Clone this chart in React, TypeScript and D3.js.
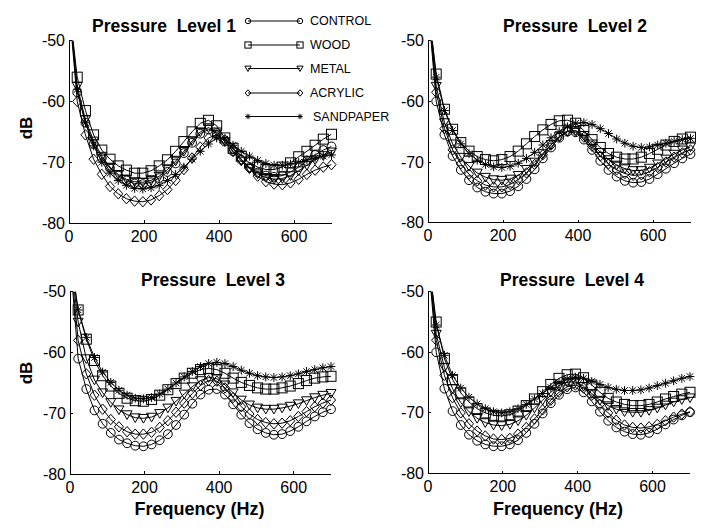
import React from 'react';
import * as d3 from 'd3';

const FREQ = [0, 21.9, 43.8, 65.6, 87.5, 109.4, 131.3, 153.1, 175, 196.9, 218.8, 240.6, 262.5, 284.4, 306.3, 328.1, 350, 371.9, 393.8, 415.6, 437.5, 459.4, 481.3, 503.1, 525, 546.9, 568.8, 590.6, 612.5, 634.4, 656.3, 678.1, 700];

const P1_CONTROL = [-44, -58.5, -63.5, -67, -69.3, -71, -72.2, -73, -73.5, -73.6, -73.3, -72.6, -71.6, -70.2, -68.5, -66.8, -65.3, -64.6, -65.2, -66.6, -68.2, -69.6, -70.8, -71.7, -72.2, -72.4, -72.2, -71.6, -70.8, -69.8, -68.8, -68, -67.4];
const P1_WOOD = [-44, -56, -61.5, -65.5, -68, -69.5, -70.6, -71.3, -71.8, -71.8, -71.4, -70.6, -69.6, -68.2, -66.6, -65, -63.6, -63.1, -64, -66, -67.7, -69, -70.1, -70.8, -71.2, -71.2, -70.8, -70.1, -69.1, -68.2, -67.2, -66.2, -65.4];
const P1_METAL = [-44, -57.5, -63, -66.5, -69, -70.8, -72, -72.8, -73.2, -73.3, -73, -72.3, -71.2, -69.8, -68.2, -66.5, -65, -64.3, -65, -66.6, -68.3, -69.8, -71, -71.9, -72.5, -72.8, -72.7, -72.2, -71.4, -70.5, -69.6, -68.9, -68.3];
const P1_ACRYLIC = [-44, -60, -65.5, -69.5, -72, -74, -75.2, -76, -76.4, -76.5, -76.2, -75.5, -74.5, -73, -71.2, -69.3, -67.5, -66, -65.5, -66.3, -67.8, -69.5, -71, -72.3, -73.2, -73.6, -73.7, -73.4, -72.8, -72, -71.3, -70.8, -70.4];
const P1_SANDPAPER = [-44, -58, -63.5, -67.3, -70, -71.8, -73, -73.8, -74.3, -74.4, -74.2, -73.8, -73, -72, -70.8, -69.5, -68.2, -67, -66, -66.2, -67.2, -68.2, -69, -69.7, -70.2, -70.5, -70.5, -70.3, -70, -69.6, -69.3, -69, -68.8];

const P2_CONTROL = [-44, -60, -65.5, -69, -71.3, -73, -74.2, -74.9, -75.2, -75.2, -74.8, -74, -72.8, -71.2, -69.4, -67.6, -66, -65, -65.1, -66.3, -68, -69.8, -71.3, -72.4, -73.1, -73.4, -73.3, -72.8, -72, -71.1, -70.2, -69.4, -68.7];
const P2_WOOD = [-44, -55.5, -61.3, -64.6, -66.8, -68.2, -69.1, -69.6, -69.8, -69.6, -69.1, -68.2, -67, -65.8, -64.7, -63.8, -63.2, -63.1, -63.6, -64.8, -66.3, -67.6, -68.6, -69.2, -69.5, -69.5, -69.2, -68.6, -67.9, -67.2, -66.6, -66.2, -65.9];
const P2_METAL = [-44, -57.5, -63.5, -67, -69.2, -70.7, -71.8, -72.5, -72.9, -73, -72.8, -72.2, -71.2, -70, -68.6, -67.1, -65.8, -64.9, -64.8, -65.6, -67, -68.4, -69.6, -70.5, -71.1, -71.4, -71.4, -71, -70.3, -69.5, -68.7, -68, -67.5];
const P2_ACRYLIC = [-44, -58.5, -64.5, -68, -70.3, -72, -73.1, -73.8, -74.1, -74.1, -73.7, -72.9, -71.8, -70.4, -68.8, -67.2, -65.8, -64.9, -64.9, -65.9, -67.4, -69, -70.3, -71.3, -71.9, -72.2, -72.1, -71.6, -70.9, -70, -69.2, -68.5, -68];
const P2_SANDPAPER = [-44, -56, -61.5, -64.8, -67, -68.6, -69.7, -70.4, -70.8, -70.9, -70.7, -70.2, -69.4, -68.4, -67.2, -66, -65, -64.2, -63.6, -63.5, -63.8, -64.5, -65.3, -66.2, -66.9, -67.4, -67.6, -67.5, -67.2, -66.9, -66.6, -66.3, -66.1];

const P3_CONTROL = [-44, -61, -66, -69.5, -71.7, -73.2, -74.3, -74.9, -75.3, -75.4, -75.1, -74.4, -73.4, -71.9, -70.2, -68.4, -66.9, -66.1, -66, -66.9, -68.5, -70.2, -71.6, -72.6, -73.2, -73.5, -73.4, -72.9, -72.2, -71.3, -70.5, -69.8, -69.3];
const P3_WOOD = [-44, -53, -57.8, -61.3, -63.8, -65.5, -66.7, -67.5, -67.9, -68, -67.7, -67, -66.1, -65.1, -64.2, -63.4, -62.8, -62.6, -62.8, -63.4, -64.2, -64.9, -65.4, -65.8, -66, -66, -65.8, -65.5, -65.1, -64.6, -64.2, -64, -63.9];
const P3_METAL = [-44, -55, -61, -64.5, -66.6, -68.2, -69.4, -70.2, -70.7, -70.8, -70.6, -70, -69.1, -68, -66.8, -65.6, -64.6, -64.1, -64.3, -65.3, -66.6, -67.8, -68.6, -69.1, -69.3, -69.3, -69.1, -68.8, -68.4, -67.9, -67.4, -67, -66.7];
const P3_ACRYLIC = [-44, -58, -63.5, -67, -69.3, -71, -72.2, -73, -73.4, -73.4, -73.1, -72.3, -71.2, -69.8, -68.3, -66.7, -65.4, -64.6, -64.7, -65.8, -67.4, -68.9, -70.1, -71, -71.5, -71.7, -71.6, -71.2, -70.5, -69.7, -68.9, -68.3, -67.8];
const P3_SANDPAPER = [-44, -53, -57.5, -60.8, -63.2, -64.9, -66.2, -67, -67.5, -67.6, -67.4, -66.8, -66, -65, -64, -63.1, -62.3, -61.8, -61.6, -61.8, -62.3, -62.9, -63.4, -63.8, -64, -64.1, -64, -63.8, -63.5, -63.1, -62.8, -62.5, -62.3];

const P4_CONTROL = [-44, -60, -66, -69.7, -72, -73.6, -74.6, -75.2, -75.5, -75.5, -75.2, -74.5, -73.3, -71.8, -70.1, -68.4, -67, -66.1, -65.8, -66.6, -68.1, -69.8, -71.3, -72.4, -73.1, -73.5, -73.6, -73.3, -72.7, -71.9, -71.1, -70.4, -69.9];
const P4_WOOD = [-44, -55, -61, -64.5, -66.7, -68.2, -69.3, -70, -70.4, -70.5, -70.3, -69.7, -68.8, -67.7, -66.5, -65.3, -64.3, -63.7, -63.6, -64.2, -65.4, -66.6, -67.6, -68.2, -68.6, -68.8, -68.8, -68.6, -68.2, -67.7, -67.3, -66.9, -66.6];
const P4_METAL = [-44, -57, -62.5, -66, -68.3, -69.8, -70.9, -71.6, -72, -72.1, -71.9, -71.3, -70.4, -69.2, -67.9, -66.6, -65.5, -64.9, -64.9, -65.6, -66.8, -67.9, -68.8, -69.4, -69.8, -69.9, -69.9, -69.6, -69.2, -68.7, -68.2, -67.8, -67.5];
const P4_ACRYLIC = [-44, -58, -63.8, -67.5, -70, -71.8, -73, -73.8, -74.3, -74.4, -74.2, -73.5, -72.4, -71, -69.5, -67.9, -66.6, -65.7, -65.4, -65.9, -67.1, -68.6, -70, -71.2, -72, -72.4, -72.5, -72.3, -71.9, -71.3, -70.7, -70.2, -69.8];
const P4_SANDPAPER = [-44, -55.5, -60.5, -63.8, -65.9, -67.4, -68.5, -69.3, -69.8, -70, -69.8, -69.3, -68.6, -67.7, -66.8, -65.8, -65, -64.4, -64.1, -64.3, -64.8, -65.3, -65.8, -66.1, -66.3, -66.3, -66.2, -65.9, -65.5, -65.1, -64.7, -64.3, -64];

const SERIES_NAMES = ['CONTROL', 'WOOD', 'METAL', 'ACRYLIC', 'SANDPAPER'];
const MARKERS = ['circle', 'square', 'triangle', 'diamond', 'asterisk'];
const PANEL_TITLES = ['Pressure  Level 1', 'Pressure  Level 2', 'Pressure  Level 3', 'Pressure  Level 4'];
const X_TICKS = [0, 200, 400, 600];
const Y_TICKS = [-50, -60, -70, -80];
const X_LABEL = 'Frequency (Hz)';
const Y_LABEL = 'dB';

const PANEL_DATA = [
  [P1_CONTROL, P1_WOOD, P1_METAL, P1_ACRYLIC, P1_SANDPAPER],
  [P2_CONTROL, P2_WOOD, P2_METAL, P2_ACRYLIC, P2_SANDPAPER],
  [P3_CONTROL, P3_WOOD, P3_METAL, P3_ACRYLIC, P3_SANDPAPER],
  [P4_CONTROL, P4_WOOD, P4_METAL, P4_ACRYLIC, P4_SANDPAPER],
];

const LAYOUT = [
  { x0: 69, x1: 331.5, y0: 40.7, y1: 223, tx: 164, ty: 32, xl: false, yl: true, ylx: 32, yly: 128 },
  { x0: 428, x1: 690.5, y0: 40.7, y1: 222.7, tx: 575, ty: 32, xl: false, yl: false },
  { x0: 70, x1: 331, y0: 291.7, y1: 474.3, tx: 213, ty: 285.5, xl: true, yl: true, ylx: 32, yly: 373 },
  { x0: 428, x1: 690, y0: 291.7, y1: 473.5, tx: 572, ty: 286, xl: true, yl: false },
];

const FONT = 'Liberation Sans, Arial, sans-serif';

function Marker({ type, x, y, s = 1 }: { type: string; x: number; y: number; s?: number }) {
  const common = { fill: 'none', stroke: '#000', strokeWidth: 1 };
  if (type === 'circle') return <circle cx={x} cy={y} r={4.4 * s} {...common} />;
  if (type === 'square') {
    const h = 5 * s;
    return <rect x={x - h} y={y - h} width={2 * h} height={2 * h} {...common} />;
  }
  if (type === 'triangle') {
    const w = 5 * s, h = 4.8 * s;
    return <path d={`M${x - w},${y - h * 0.8}L${x + w},${y - h * 0.8}L${x},${y + h}Z`} {...common} />;
  }
  if (type === 'diamond') {
    const w = 4.6 * s, h = 5.2 * s;
    return <path d={`M${x},${y - h}L${x + w},${y}L${x},${y + h}L${x - w},${y}Z`} {...common} />;
  }
  const r = 4.4 * s, d = 3.2 * s;
  return (
    <path
      d={`M${x - r},${y}L${x + r},${y}M${x},${y - r}L${x},${y + r}M${x - d},${y - d}L${x + d},${y + d}M${x - d},${y + d}L${x + d},${y - d}`}
      {...common}
    />
  );
}

function Panel({ idx }: { idx: number }) {
  const L = LAYOUT[idx];
  const xs = d3.scaleLinear().domain([0, 700]).range([L.x0, L.x1]);
  const ys = d3.scaleLinear().domain([-80, -50]).range([L.y1, L.y0]);
  const line = d3.line<number>().x((_, i) => xs(FREQ[i])).y((v) => ys(v));
  const clipId = `clip${idx}`;
  return (
    <g>
      <defs>
        <clipPath id={clipId}>
          <rect x={L.x0} y={L.y0} width={L.x1 - L.x0} height={L.y1 - L.y0} />
        </clipPath>
      </defs>
      {PANEL_DATA[idx].map((vals, si) => (
        <g key={si}>
          <path d={line(vals) || ''} fill="none" stroke="#000" strokeWidth={1} clipPath={`url(#${clipId})`} />
          {vals.map((v, i) =>
            v <= -50 && v >= -80 ? <Marker key={i} type={MARKERS[si]} x={xs(FREQ[i])} y={ys(v)} /> : null
          )}
        </g>
      ))}
      <line x1={L.x0} x2={L.x0} y1={L.y0} y2={L.y1} stroke="#000" strokeWidth={1} shapeRendering="crispEdges" />
      <line x1={L.x0} x2={L.x1} y1={L.y1} y2={L.y1} stroke="#000" strokeWidth={1} shapeRendering="crispEdges" />
      {Y_TICKS.map((t) => (
        <g key={t}>
          <line x1={L.x0} x2={L.x0 + 3} y1={ys(t)} y2={ys(t)} stroke="#000" shapeRendering="crispEdges" />
          <text x={L.x0 - 4} y={ys(t)} textAnchor="end" dominantBaseline="central" fontSize={16} fontFamily={FONT}>
            {t}
          </text>
        </g>
      ))}
      {X_TICKS.map((t) => (
        <g key={t}>
          <line x1={xs(t)} x2={xs(t)} y1={L.y1} y2={L.y1 - 3} stroke="#000" shapeRendering="crispEdges" />
          <text x={xs(t)} y={L.y1 + 18.5} textAnchor="middle" fontSize={16} fontFamily={FONT}>
            {t}
          </text>
        </g>
      ))}
      <text x={L.tx} y={L.ty} textAnchor="middle" fontSize={17.5} fontWeight="bold" fontFamily={FONT} style={{ whiteSpace: 'pre' }}>
        {PANEL_TITLES[idx]}
      </text>
      {L.yl && (
        <text transform={`translate(${L.ylx},${L.yly}) rotate(-90)`} textAnchor="middle" fontSize={17} fontWeight="bold" fontFamily={FONT}>
          {Y_LABEL}
        </text>
      )}
      {L.xl && (
        <text x={(L.x0 + L.x1) / 2 - 1} y={515} textAnchor="middle" fontSize={18} fontWeight="bold" fontFamily={FONT}>
          {X_LABEL}
        </text>
      )}
    </g>
  );
}

function Legend() {
  const rows = [21, 45, 68.5, 93, 116.5];
  return (
    <g>
      {SERIES_NAMES.map((n, i) => (
        <g key={n}>
          <line x1={248} x2={300} y1={rows[i]} y2={rows[i]} stroke="#000" strokeWidth={1} />
          <Marker type={MARKERS[i]} x={248} y={rows[i]} s={0.62} />
          <Marker type={MARKERS[i]} x={300} y={rows[i]} s={0.62} />
          <text x={i === 4 ? 313 : 310} y={rows[i]} dominantBaseline="central" fontSize={12.5} fontFamily={FONT}>
            {n}
          </text>
        </g>
      ))}
    </g>
  );
}

export default function App() {
  return (
    <svg width={722} height={530} style={{ position: 'absolute', left: 0, top: 0, background: '#fff' }}>
      <rect width={722} height={530} fill="#fff" />
      {[0, 1, 2, 3].map((i) => (
        <Panel key={i} idx={i} />
      ))}
      <Legend />
    </svg>
  );
}
